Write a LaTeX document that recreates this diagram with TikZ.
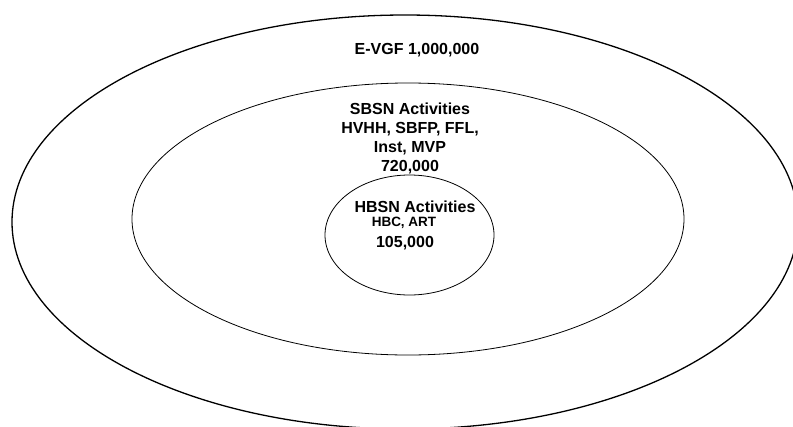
\documentclass[tikz,border=0pt]{standalone}
\usepackage{fontspec}
\setmainfont{Liberation Sans}
\usetikzlibrary{shapes.geometric}
\begin{document}
\begin{tikzpicture}[
    x=1pt, y=-1pt,
    ring/.style={ellipse, draw, inner sep=0pt},
    ringtext/.style={font=\fontsize{16}{19}\selectfont\bfseries, align=center, inner sep=0pt},
    subtext/.style={font=\fontsize{13.5}{16}\selectfont\bfseries, inner sep=0pt}
]
\useasboundingbox (0,0) rectangle (793,426);
\clip (0,0) rectangle (793,426);

% Outer ring
\node[ring, line width=1.3pt, minimum width=786pt, minimum height=414pt] (evgf) at (405,222) {};
\node[ringtext] (evgftext) at (417,50) {E-VGF 1,000,000};

% Middle ring
\node[ring, line width=0.8pt, minimum width=552pt, minimum height=272pt] (sbsn) at (408,219) {};
\node[ringtext] (sbsntext) at (410,138) {SBSN Activities\\HVHH, SBFP, FFL,\\Inst, MVP\\720,000};

% Inner ring
\node[ring, line width=0.8pt, minimum width=169pt, minimum height=120pt] (hbsn) at (409.5,235) {};
\node[ringtext] (hbsntitle) at (415,207) {HBSN Activities};
\node[subtext] (hbsnlist) at (404,223) {HBC, ART};
\node[ringtext] (hbsnnum) at (405,243) {105,000};
\end{tikzpicture}
\end{document}
